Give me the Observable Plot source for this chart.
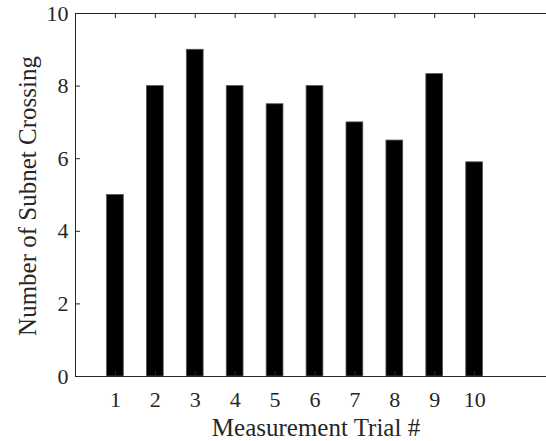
<!DOCTYPE html>
<html>
<head>
<meta charset="utf-8">
<script src="https://cdn.jsdelivr.net/npm/d3@7"></script>
<script src="https://cdn.jsdelivr.net/npm/@observablehq/plot@0.6"></script>
<style>
  html, body { margin: 0; padding: 0; background: #fff; }
  svg { display: block; }
</style>
</head>
<body>
<div id="chart"></div>
<script>
const trials = [1, 2, 3, 4, 5, 6, 7, 8, 9, 10];
const crossings = [5, 8, 9, 8, 7.5, 8, 7, 6.5, 8.33, 5.9];
const xTicks = [1, 2, 3, 4, 5, 6, 7, 8, 9, 10];
const yTicks = [0, 2, 4, 6, 8, 10];
const xLabel = "Measurement Trial #";
const yLabel = "Number of Subnet Crossing";

const data = trials.map((t, i) => ({trial: t, value: crossings[i]}));
const halfW = 0.21;
const axisColor = "#262626";
const font = "'Liberation Serif', 'Times New Roman', serif";

const chart = Plot.plot({
  width: 546,
  height: 441,
  marginLeft: 75,
  marginRight: 0,
  marginTop: 13,
  marginBottom: 65,
  style: {fontFamily: font, background: "#fff"},
  x: {domain: [0, 11.8], ticks: xTicks, label: null},
  y: {domain: [0, 10], ticks: yTicks, label: null},
  marks: [
    Plot.rectY(data, {x1: d => d.trial - halfW, x2: d => d.trial + halfW, y: "value", fill: "#000", stroke: "#555", strokeWidth: 0.8}),
    Plot.ruleY([0, 10], {stroke: axisColor, strokeWidth: 1}),
    Plot.ruleX([0], {stroke: axisColor, strokeWidth: 1}),
    Plot.ruleY(yTicks, {x1: 0, x2: 0.125, stroke: axisColor}),
    Plot.ruleX(xTicks, {y1: 10, y2: 10 - 0.14, stroke: axisColor}),
    Plot.ruleX(xTicks, {y1: 0, y2: 0.14, stroke: axisColor}),
    Plot.axisY(yTicks, {tickSize: 0, tickPadding: 7, fontSize: 22, fill: axisColor, label: null}),
    Plot.axisX(xTicks, {tickSize: 0, tickPadding: 15, fontSize: 22, fill: axisColor, label: null}),
    Plot.text([xLabel], {frameAnchor: "bottom", dy: 51, dx: 5, lineAnchor: "middle", textAnchor: "middle", fontSize: 25, fill: axisColor}),
    Plot.text([yLabel], {frameAnchor: "left", dx: -48, dy: 1, rotate: -90, lineAnchor: "middle", textAnchor: "middle", fontSize: 25, fill: axisColor})
  ]
});
document.getElementById("chart").appendChild(chart);
</script>
</body>
</html>
